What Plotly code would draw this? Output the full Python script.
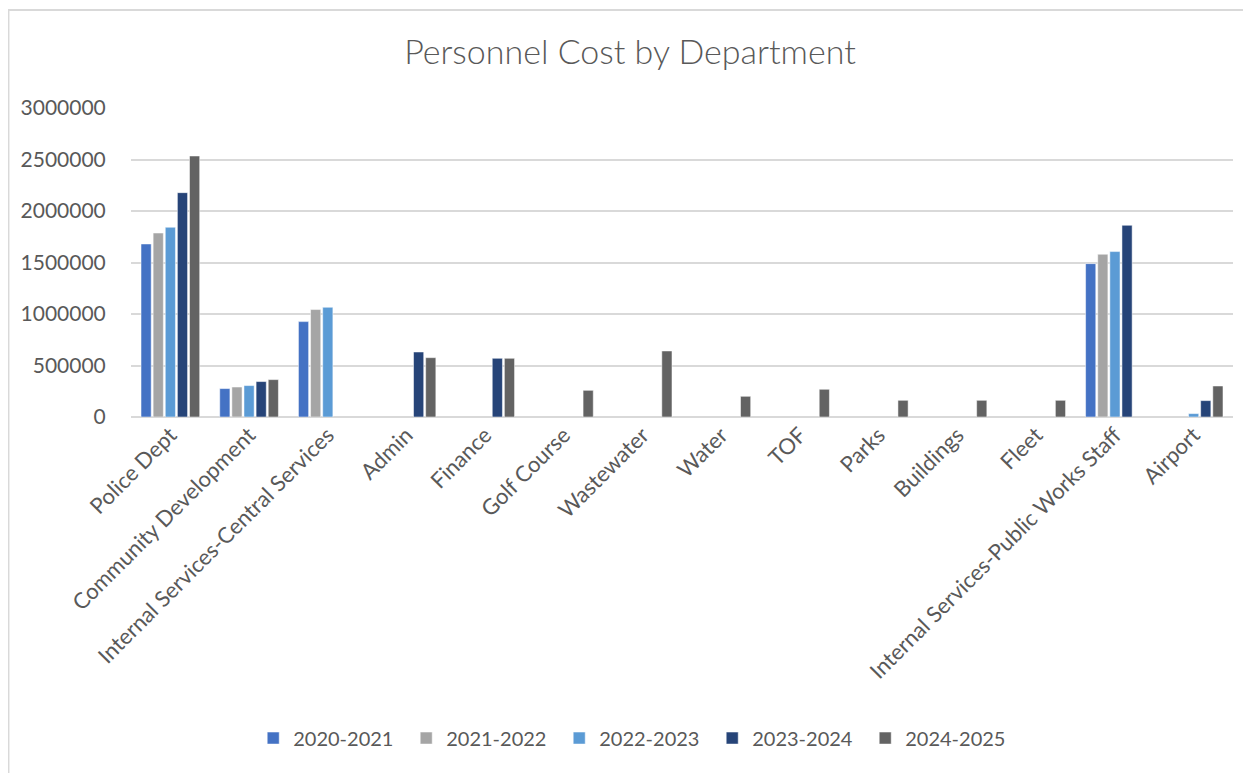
import plotly.graph_objects as go

departments = ['Police Dept', 'Community Development', 'Internal Services-Central Services',
               'Admin', 'Finance', 'Golf Course', 'Wastewater', 'Water', 'TOF', 'Parks',
               'Buildings', 'Fleet', 'Internal Services-Public Works Staff', 'Airport']

fy_2020_2021 = [1680000, 276000, 926000, None, None, None, None, None, None, None, None, None, 1489000, None]
fy_2021_2022 = [1786000, 291000, 1043000, None, None, None, None, None, None, None, None, None, 1580000, None]
fy_2022_2023 = [1842000, 305000, 1065000, None, None, None, None, None, None, None, None, None, 1606000, 33000]
fy_2023_2024 = [2178000, 344000, None, 631000, 570000, None, None, None, None, None, None, None, 1861000, 159000]
fy_2024_2025 = [2534000, 363000, None, 576000, 570000, 259000, 641000, 201000, 269000, 162000, 162000, 162000, None, 301000]

series = [
    ('2020-2021', fy_2020_2021, '#4472c4'),
    ('2021-2022', fy_2021_2022, '#a5a5a5'),
    ('2022-2023', fy_2022_2023, '#5b9bd5'),
    ('2023-2024', fy_2023_2024, '#264478'),
    ('2024-2025', fy_2024_2025, '#636363'),
]

font_family = 'Lato, "Open Sans", sans-serif'
text_color = '#595959'

fig = go.Figure()
for name, values, color in series:
    fig.add_trace(go.Bar(
        name=name,
        x=departments,
        y=values,
        marker=dict(color=color, line=dict(color='#ffffff', width=0.5)),
    ))

# chart frame like the Excel chart area
fig.add_shape(type='rect', xref='paper', yref='paper',
              x0=-0.1112, x1=1.2, y0=-1.3, y1=1.317,
              line=dict(color='#d9d9d9', width=2), layer='below')

fig.update_layout(
    width=1243,
    height=765,
    margin=dict(l=123, r=18, t=100, b=356),
    paper_bgcolor='white',
    plot_bgcolor='white',
    barmode='group',
    bargap=0.23,
    bargroupgap=0.16,
    font=dict(family=font_family, color=text_color, size=20),
    title=dict(text='Personnel Cost by Department', x=0.5004, xanchor='center',
               y=0.9425, yanchor='middle',
               font=dict(size=34, color=text_color, family=font_family, weight=300)),
    legend=dict(orientation='h', x=0.458, xanchor='center', y=-1.039, yanchor='middle',
                font=dict(size=20, color=text_color), itemwidth=30,
                entrywidth=108, traceorder='normal'),
    showlegend=True,
)
fig.update_xaxes(tickangle=-45, showgrid=False, showline=False, ticks='',
                 tickfont=dict(size=22, color=text_color, family=font_family))
fig.update_yaxes(range=[0, 3000000], tick0=0, dtick=500000, tickformat='d',
                 showgrid=True, gridcolor='#d9d9d9', gridwidth=1.5,
                 zeroline=True, zerolinecolor='#d9d9d9', zerolinewidth=1.5,
                 showline=False, ticks='outside', ticklen=20, tickcolor='rgba(0,0,0,0)',
                 tickfont=dict(size=21, color=text_color, family=font_family))

fig.write_html('out.html')
